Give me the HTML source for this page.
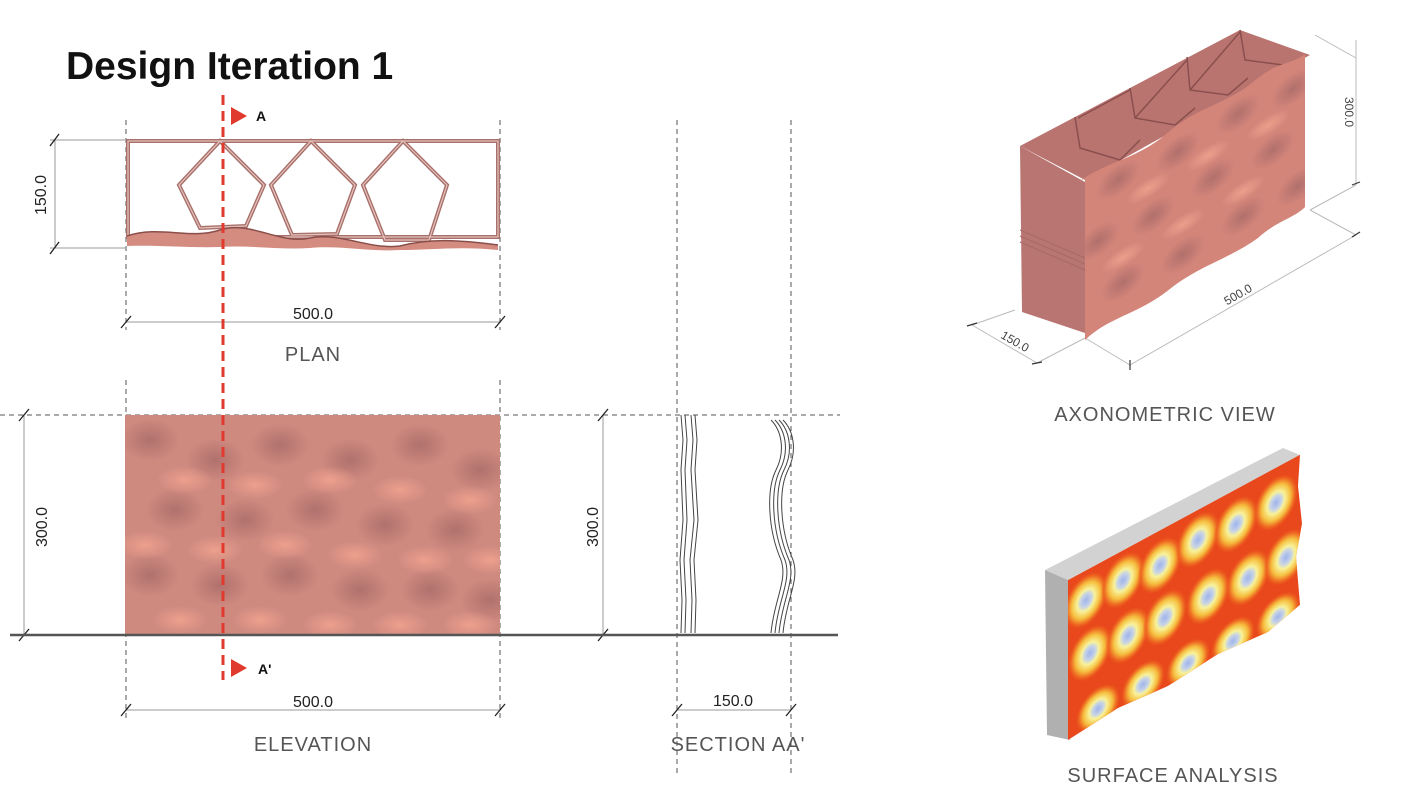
<!DOCTYPE html>
<html><head><meta charset="utf-8"><style>
html,body{margin:0;padding:0;background:#fff;}
body{width:1406px;height:800px;overflow:hidden;font-family:"Liberation Sans",sans-serif;}
</style></head><body>
<svg width="1406" height="800" viewBox="0 0 1406 800" xmlns="http://www.w3.org/2000/svg">
<defs>
<radialGradient id="bump" cx="50%" cy="50%" r="50%">
<stop offset="0" stop-color="#a86a68" stop-opacity="0.8"/><stop offset="1" stop-color="#a86a68" stop-opacity="0"/></radialGradient>
<radialGradient id="hi" cx="50%" cy="50%" r="50%">
<stop offset="0" stop-color="#f0a28e" stop-opacity="0.9"/><stop offset="1" stop-color="#f0a28e" stop-opacity="0"/></radialGradient>
<radialGradient id="sa" cx="50%" cy="50%" r="50%">
<stop offset="0" stop-color="#9fb4ec"/><stop offset="0.25" stop-color="#c7d3e6"/><stop offset="0.4" stop-color="#f8f29a"/><stop offset="0.65" stop-color="#f6c040"/><stop offset="0.85" stop-color="#ee6a22"/><stop offset="1" stop-color="#ee5a1e" stop-opacity="0"/></radialGradient>
<clipPath id="elc"><rect x="125" y="415" width="375" height="220"/></clipPath>
<clipPath id="sac"><path d="M0,0 L232,0 L230,30 L234,70 L228,100 L232,150 L200,160 L150,155 L100,160 L50,155 L0,160 Z"/></clipPath>
<clipPath id="axc"><path d="M0,0 C30,-5 60,10 90,0 C120,-10 150,5 180,-5 C200,-10 215,0 227,-3 L227,150 C215,155 200,148 180,155 C150,160 120,150 90,158 C60,165 30,152 7,162 L7,0 Z"/></clipPath>
</defs>

<text x="66" y="79" font-family="Liberation Sans" font-weight="bold" font-size="39" fill="#111">Design Iteration 1</text>

<g stroke="#555" stroke-width="1" stroke-dasharray="5,4" fill="none">
<line x1="126" y1="120" x2="126" y2="330"/><line x1="500" y1="120" x2="500" y2="330"/>
<line x1="126" y1="380" x2="126" y2="720"/><line x1="500" y1="380" x2="500" y2="720"/>
<line x1="677" y1="120" x2="677" y2="775"/><line x1="791" y1="120" x2="791" y2="775"/>
<line x1="0" y1="415" x2="840" y2="415"/>
</g>

<g stroke="#999" stroke-width="1" fill="none">
<line x1="50" y1="140" x2="125" y2="140"/><line x1="50" y1="248" x2="125" y2="248"/>
<line x1="55" y1="140" x2="55" y2="248"/>
<line x1="126" y1="322" x2="500" y2="322"/>
<line x1="24" y1="415" x2="24" y2="635" /><line x1="603" y1="415" x2="603" y2="635"/>
<line x1="126" y1="710" x2="500" y2="710"/><line x1="677" y1="710" x2="791" y2="710"/>
</g>
<g stroke="#222" stroke-width="1.3">
<line x1="50" y1="146" x2="59" y2="134"/><line x1="50" y1="254" x2="59" y2="242"/>
<line x1="121" y1="328" x2="131" y2="316"/><line x1="495" y1="328" x2="505" y2="316"/>
<line x1="19" y1="421" x2="29" y2="409"/><line x1="19" y1="641" x2="29" y2="629"/>
<line x1="598" y1="421" x2="608" y2="409"/><line x1="598" y1="641" x2="608" y2="629"/>
<line x1="121" y1="716" x2="131" y2="704"/><line x1="495" y1="716" x2="505" y2="704"/>
<line x1="672" y1="716" x2="682" y2="704"/><line x1="786" y1="716" x2="796" y2="704"/>
</g>
<g fill="none" stroke="#a8706b" stroke-width="4">
<rect x="128" y="141" width="370" height="96"/>
<path d="M220,141 L264,185 L246,226 L200,228 L179,185 Z"/>
<path d="M311,141 L355,185 L337,234 L292,235 L271,185 Z"/>
<path d="M403,141 L447,185 L429,240 L385,240 L363,185 Z"/>
</g>
<g fill="none" stroke="#e6c2bc" stroke-width="1.2">
<rect x="128" y="141" width="370" height="96"/>
<path d="M220,141 L264,185 L246,226 L200,228 L179,185 Z"/>
<path d="M311,141 L355,185 L337,234 L292,235 L271,185 Z"/>
<path d="M403,141 L447,185 L429,240 L385,240 L363,185 Z"/>
</g>
<path d="M127,236 C160,225 190,240 220,230 C250,220 280,245 310,238 C340,232 370,250 400,246 C430,238 460,240 498,245 L498,250 C460,246 430,250 400,250 C370,252 340,245 310,248 C280,250 250,245 220,247 C190,248 160,245 127,246 Z" fill="#d48c80"/>
<path d="M127,236 C160,225 190,240 220,230 C250,220 280,245 310,238 C340,232 370,250 400,246 C430,238 460,240 498,245" fill="none" stroke="#8a4f4a" stroke-width="1.5"/>

<text x="313" y="319" font-size="16" fill="#222" text-anchor="middle">500.0</text>
<text x="313" y="361" font-size="20" fill="#555" text-anchor="middle" letter-spacing="1">PLAN</text>
<text transform="translate(46,195) rotate(-90)" font-size="16" fill="#222" text-anchor="middle">150.0</text>

<rect x="125" y="415" width="375" height="220" fill="#cf8a80"/>
<g clip-path="url(#elc)">
<g fill="url(#bump)">
<ellipse cx="150" cy="440" rx="30" ry="22"/><ellipse cx="215" cy="460" rx="30" ry="22"/><ellipse cx="280" cy="445" rx="30" ry="22"/><ellipse cx="350" cy="460" rx="30" ry="22"/><ellipse cx="420" cy="445" rx="30" ry="22"/><ellipse cx="480" cy="470" rx="30" ry="22"/>
<ellipse cx="175" cy="510" rx="30" ry="22"/><ellipse cx="245" cy="520" rx="30" ry="22"/><ellipse cx="315" cy="510" rx="30" ry="22"/><ellipse cx="385" cy="525" rx="30" ry="22"/><ellipse cx="455" cy="530" rx="30" ry="22"/>
<ellipse cx="150" cy="575" rx="30" ry="22"/><ellipse cx="220" cy="585" rx="30" ry="22"/><ellipse cx="290" cy="575" rx="30" ry="22"/><ellipse cx="360" cy="590" rx="30" ry="22"/><ellipse cx="430" cy="590" rx="30" ry="22"/><ellipse cx="490" cy="600" rx="30" ry="22"/>
</g>
<g fill="url(#hi)">
<ellipse cx="185" cy="480" rx="28" ry="14"/><ellipse cx="255" cy="485" rx="28" ry="14"/><ellipse cx="330" cy="480" rx="28" ry="14"/><ellipse cx="400" cy="490" rx="28" ry="14"/><ellipse cx="470" cy="500" rx="28" ry="14"/>
<ellipse cx="145" cy="545" rx="28" ry="14"/><ellipse cx="215" cy="550" rx="28" ry="14"/><ellipse cx="285" cy="545" rx="28" ry="14"/><ellipse cx="355" cy="555" rx="28" ry="14"/><ellipse cx="425" cy="560" rx="28" ry="14"/><ellipse cx="490" cy="560" rx="28" ry="14"/>
<ellipse cx="180" cy="620" rx="28" ry="14"/><ellipse cx="260" cy="620" rx="28" ry="14"/><ellipse cx="330" cy="625" rx="28" ry="14"/><ellipse cx="400" cy="625" rx="28" ry="14"/><ellipse cx="470" cy="625" rx="28" ry="14"/>
</g>
</g>
<line x1="10" y1="635" x2="838" y2="635" stroke="#555" stroke-width="2.5"/>
<text x="313" y="707" font-size="16" fill="#222" text-anchor="middle">500.0</text>
<text x="313" y="751" font-size="20" fill="#555" text-anchor="middle" letter-spacing="1">ELEVATION</text>
<text transform="translate(47,527) rotate(-90)" font-size="16" fill="#222" text-anchor="middle">300.0</text>

<g fill="none" stroke="#444" stroke-width="1">
<path d="M681,415 L683,440 L681,470 L683,520 L680,560 L682,600 L681,633"/>
<path d="M685,415 L687,440 L685,470 L687,520 L684,560 L686,600 L685,633"/>
<path d="M691,415 L693,440 L691,470 L694,520 L690,560 L692,600 L691,633"/>
<path d="M695,415 L697,440 L695,470 L698,520 L694,560 L696,600 L695,633"/>
<path d="M775,420 C785,430 790,450 780,470 C770,490 772,530 785,560 C792,580 778,600 775,633"/>
<path d="M779,420 C789,430 794,450 784,470 C774,490 776,530 789,560 C796,580 782,600 779,633"/>
<path d="M771,420 C781,430 786,450 776,470 C766,490 768,530 781,560 C788,580 774,600 771,633"/>
<path d="M783,420 C793,430 798,450 788,470 C778,490 780,530 793,560 C800,580 786,600 783,633"/>
</g>
<text x="733" y="706" font-size="16" fill="#222" text-anchor="middle">150.0</text>
<text x="738" y="751" font-size="20" fill="#555" text-anchor="middle" letter-spacing="1">SECTION AA'</text>
<text transform="translate(598,527) rotate(-90)" font-size="16" fill="#222" text-anchor="middle">300.0</text>

<line x1="223" y1="95" x2="223" y2="680" stroke="#e03a2e" stroke-width="3" stroke-dasharray="10,6"/>
<path d="M231,107 L247,116 L231,125 Z" fill="#e03a2e"/>
<text x="256" y="121" font-size="14" font-weight="bold" fill="#111">A</text>
<path d="M231,659 L247,668 L231,677 Z" fill="#e03a2e"/>
<text x="258" y="674" font-size="14" font-weight="bold" fill="#111">A'</text>

<g stroke="#bbb" stroke-width="1" fill="none">
<line x1="1315" y1="35" x2="1356" y2="58"/><line x1="1356" y1="40" x2="1356" y2="185"/>
<line x1="1310" y1="210" x2="1356" y2="185"/><line x1="1310" y1="210" x2="1356" y2="235"/>
<line x1="1130" y1="365" x2="1356" y2="235"/><line x1="1085" y1="338" x2="1130" y2="365"/>
<line x1="1015" y1="310" x2="972" y2="325"/><line x1="972" y1="325" x2="1037" y2="363"/><line x1="1037" y1="363" x2="1085" y2="338"/>
</g>
<g stroke="#333" stroke-width="1.2"><line x1="1352" y1="185" x2="1360" y2="182"/><line x1="1352" y1="237" x2="1360" y2="232"/><line x1="1130" y1="360" x2="1130" y2="370"/><line x1="967" y1="326" x2="977" y2="323"/><line x1="1032" y1="364" x2="1042" y2="362"/></g>
<text transform="translate(1345,112) rotate(90)" font-size="12" fill="#444" text-anchor="middle">300.0</text>
<text transform="translate(1240,298) rotate(-30)" font-size="12" fill="#444" text-anchor="middle">500.0</text>
<text transform="translate(1013,345) rotate(30)" font-size="12" fill="#444" text-anchor="middle">150.0</text>
<path d="M1020,146 L1240,30 L1310,55 L1085,180 Z" fill="#b97470"/>
<g fill="none" stroke="#8a4f4d" stroke-width="1.5">
<path d="M1075,117 L1080,148 L1120,160 L1140,140"/><path d="M1130,88 L1135,118 L1175,125 L1195,108"/><path d="M1187,57 L1190,90 L1228,95 L1248,78"/><path d="M1240,30 L1245,60 L1283,65"/>
<path d="M1078,118 L1130,90 M1135,118 L1187,60 M1190,90 L1240,32"/>
</g>
<path d="M1020,146 L1085,182 L1085,333 L1022,312 Z" fill="#b87572"/>
<g stroke="#a76a66" stroke-width="1"><line x1="1020" y1="230" x2="1085" y2="258"/><line x1="1020" y1="236" x2="1085" y2="264"/><line x1="1020" y1="242" x2="1085" y2="270"/></g>
<g transform="matrix(1,-0.55,0,1,1078,182)">
<g clip-path="url(#axc)">
<rect x="0" y="-10" width="230" height="180" fill="#d3857a"/>
<g fill="url(#bump)">
<ellipse cx="40" cy="20" rx="22" ry="16"/><ellipse cx="100" cy="25" rx="22" ry="16"/><ellipse cx="160" cy="20" rx="22" ry="16"/><ellipse cx="215" cy="25" rx="22" ry="16"/>
<ellipse cx="20" cy="70" rx="22" ry="16"/><ellipse cx="75" cy="75" rx="22" ry="16"/><ellipse cx="135" cy="70" rx="22" ry="16"/><ellipse cx="195" cy="75" rx="22" ry="16"/>
<ellipse cx="45" cy="125" rx="22" ry="16"/><ellipse cx="105" cy="130" rx="22" ry="16"/><ellipse cx="165" cy="125" rx="22" ry="16"/><ellipse cx="220" cy="125" rx="22" ry="16"/>
</g>
<g fill="url(#hi)">
<ellipse cx="70" cy="45" rx="22" ry="10"/><ellipse cx="130" cy="45" rx="22" ry="10"/><ellipse cx="190" cy="48" rx="22" ry="10"/>
<ellipse cx="45" cy="100" rx="22" ry="10"/><ellipse cx="105" cy="100" rx="22" ry="10"/><ellipse cx="165" cy="100" rx="22" ry="10"/>
</g>
</g></g>
<text x="1165" y="421" font-size="20" fill="#555" text-anchor="middle" letter-spacing="1">AXONOMETRIC VIEW</text>

<path d="M1045,570 L1283,448 L1300,455 L1068,580 Z" fill="#d2d2d2"/>
<path d="M1045,570 L1068,580 L1070,740 L1047,735 Z" fill="#b0b0b0"/>
<g transform="matrix(1,-0.54,0,1,1068,580)">
<g clip-path="url(#sac)">
<rect x="0" y="-5" width="240" height="170" fill="#e8481b"/>
<g fill="url(#sa)">
<ellipse cx="18" cy="30" rx="22" ry="26"/><ellipse cx="55" cy="30" rx="22" ry="26"/><ellipse cx="92" cy="35" rx="22" ry="26"/><ellipse cx="130" cy="30" rx="22" ry="26"/><ellipse cx="168" cy="35" rx="22" ry="26"/><ellipse cx="208" cy="35" rx="22" ry="26"/>
<ellipse cx="22" cy="85" rx="22" ry="26"/><ellipse cx="60" cy="88" rx="22" ry="26"/><ellipse cx="97" cy="90" rx="22" ry="26"/><ellipse cx="140" cy="92" rx="22" ry="26"/><ellipse cx="180" cy="95" rx="22" ry="26"/><ellipse cx="218" cy="95" rx="22" ry="26"/>
<ellipse cx="30" cy="145" rx="22" ry="22"/><ellipse cx="75" cy="145" rx="22" ry="22"/><ellipse cx="120" cy="148" rx="22" ry="22"/><ellipse cx="165" cy="150" rx="22" ry="22"/><ellipse cx="210" cy="150" rx="22" ry="22"/>
</g>
</g></g>
<text x="1173" y="782" font-size="20" fill="#555" text-anchor="middle" letter-spacing="1">SURFACE ANALYSIS</text>
</svg>
</body></html>
